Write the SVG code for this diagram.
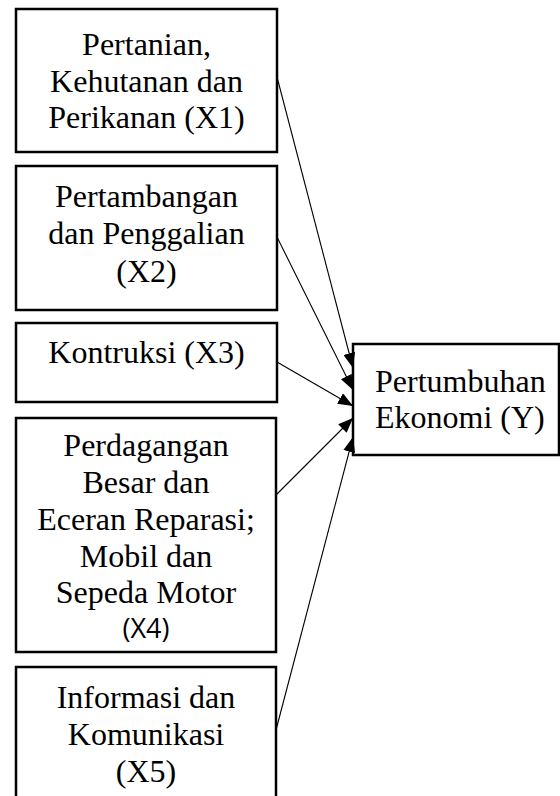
<svg xmlns="http://www.w3.org/2000/svg" width="560" height="796" viewBox="0 0 560 796">
<style>
.box{fill:#fff;stroke:#000;stroke-width:2.5}
.t{font-family:"Liberation Serif","Times New Roman",serif;font-size:32px;fill:#000;text-anchor:middle}
.s{font-family:"Open Sans","Noto Sans",sans-serif;font-size:27px;fill:#000;text-anchor:middle}
.ty{font-family:"Liberation Serif","Times New Roman",serif;font-size:32px;fill:#000}
.c{stroke:#000;stroke-width:1.1;fill:none;marker-end:url(#ah)}
</style>
<defs>
<marker id="ah" viewBox="0 0 15 12" refX="15" refY="6" markerWidth="15" markerHeight="12" markerUnits="userSpaceOnUse" orient="auto">
<path d="M0,0 L15,6 L0,12 Z" fill="#000"/>
</marker>
</defs>
<g id="x1">
<rect class="box" x="16" y="9" width="261" height="143"/>
<text class="t" x="146.5" y="55">Pertanian,</text>
<text class="t" x="146.5" y="92">Kehutanan dan</text>
<text class="t" x="146.5" y="128">Perikanan (X1)</text>
</g>
<g id="x2">
<rect class="box" x="16" y="166" width="261" height="144"/>
<text class="t" x="146.5" y="207">Pertambangan</text>
<text class="t" x="146.5" y="244">dan Penggalian</text>
<text class="t" x="146.5" y="282">(X2)</text>
</g>
<g id="x3">
<rect class="box" x="16" y="323" width="261" height="79"/>
<text class="t" x="146.5" y="363">Kontruksi (X3)</text>
</g>
<g id="x4">
<rect class="box" x="16" y="418" width="260" height="234"/>
<text class="t" x="146" y="456">Perdagangan</text>
<text class="t" x="146" y="493">Besar dan</text>
<text class="t" x="146" y="530">Eceran Reparasi;</text>
<text class="t" x="146" y="567">Mobil dan</text>
<text class="t" x="146" y="603">Sepeda Motor</text>
<text class="s" x="146" y="638">(X4)</text>
</g>
<g id="x5">
<rect class="box" x="16" y="667" width="260" height="140"/>
<text class="t" x="146" y="708">Informasi dan</text>
<text class="t" x="146" y="745">Komunikasi</text>
<text class="t" x="146" y="782">(X5)</text>
</g>
<g id="y">
<rect class="box" x="353" y="344" width="206" height="111"/>
<text class="ty" x="375" y="392">Pertumbuhan</text>
<text class="ty" x="375" y="428">Ekonomi (Y)</text>
</g>
<g id="connectors">
<line class="c" x1="277" y1="77" x2="353" y2="368"/>
<line class="c" x1="277" y1="237" x2="353" y2="390"/>
<line class="c" x1="277" y1="362" x2="353" y2="406"/>
<line class="c" x1="276" y1="495" x2="353" y2="418"/>
<line class="c" x1="276" y1="730" x2="353" y2="437"/>
</g>
</svg>
